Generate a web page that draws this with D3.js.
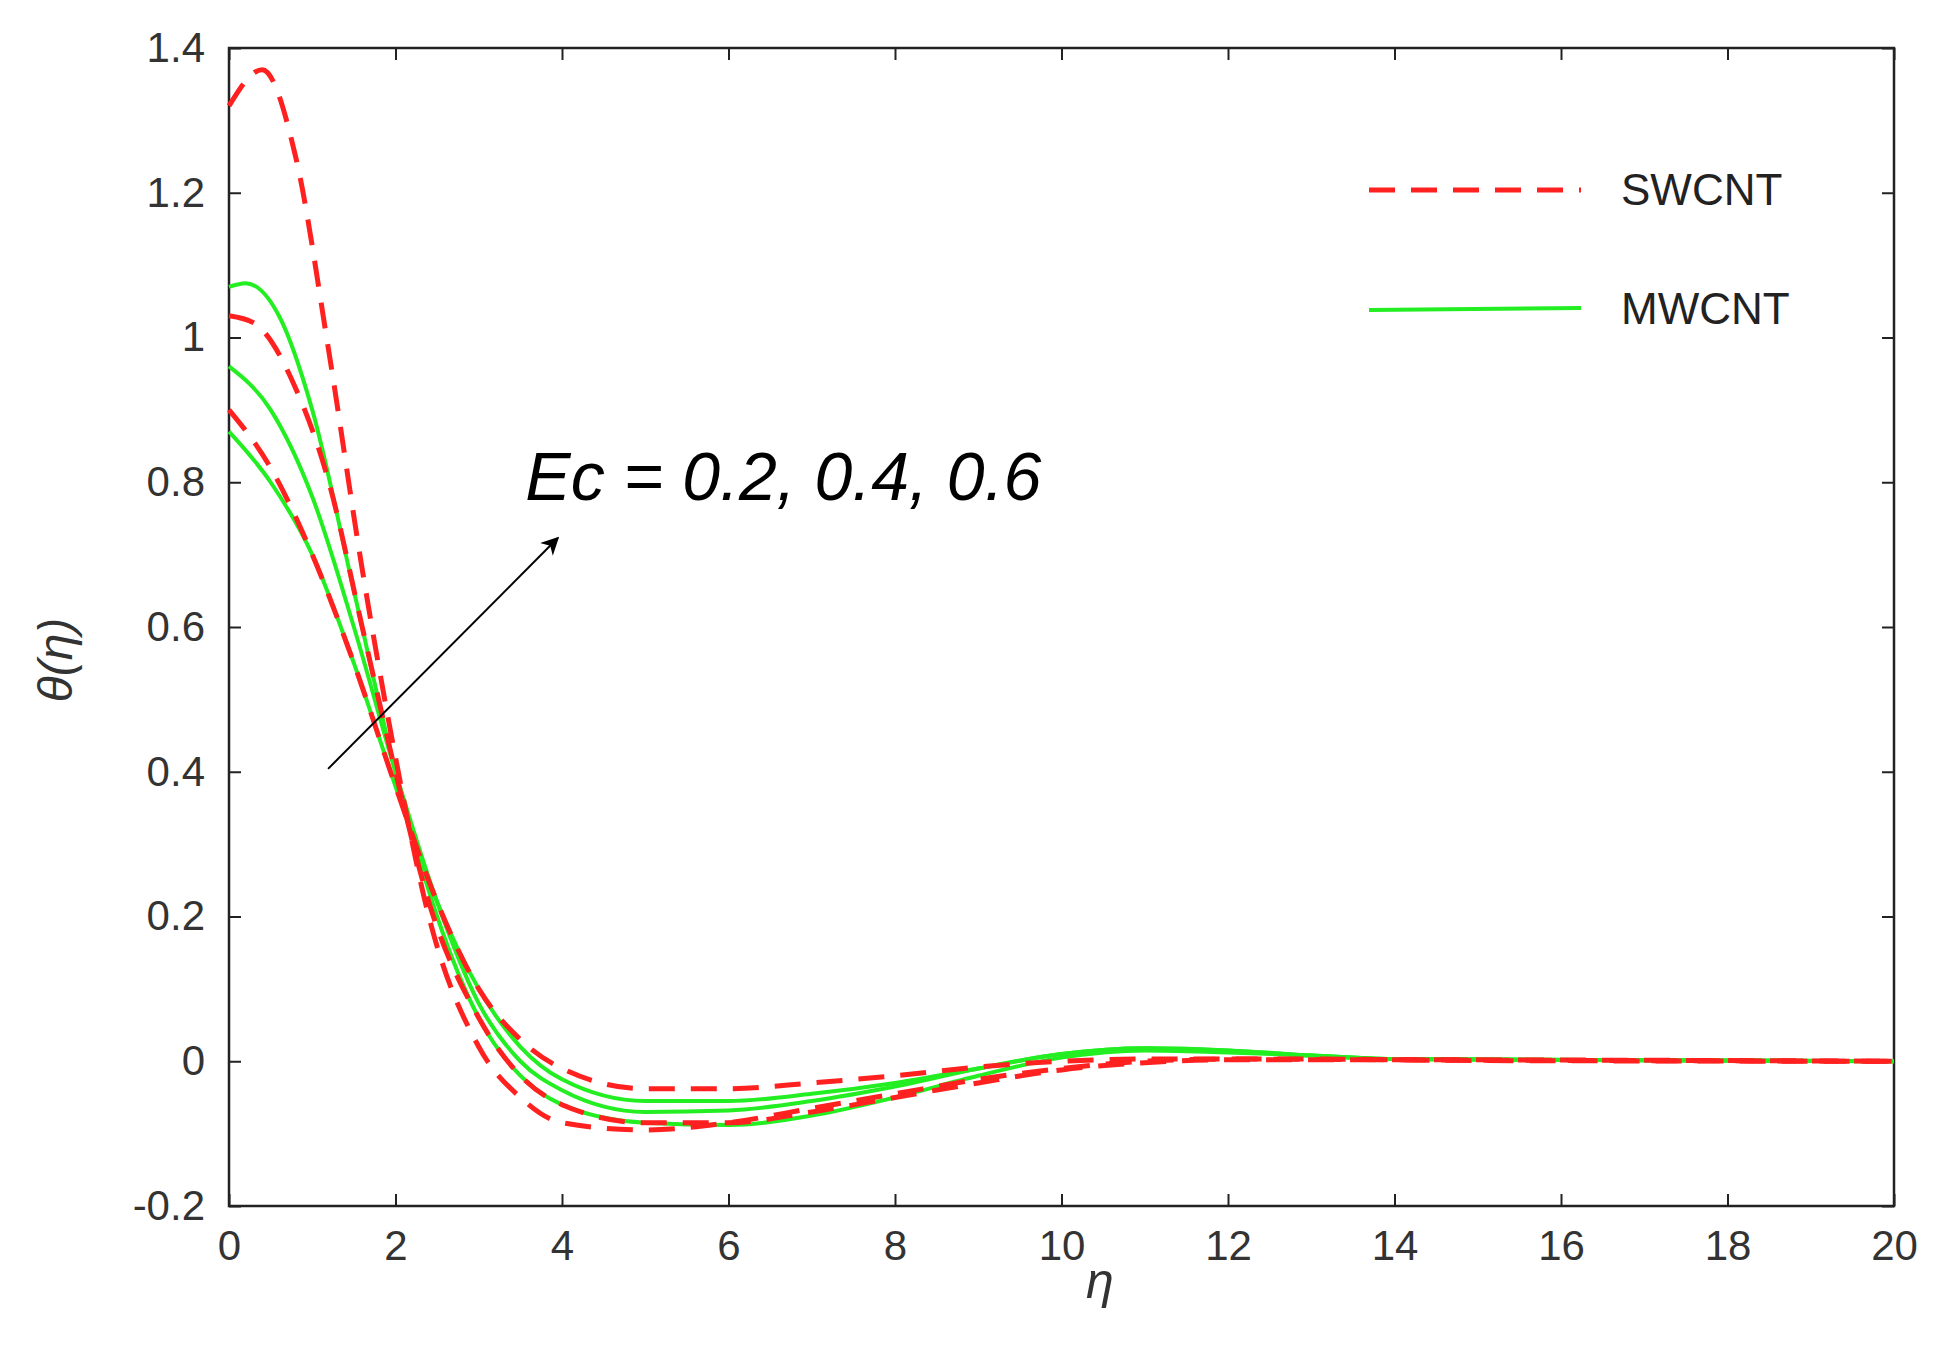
<!DOCTYPE html>
<html>
<head>
<meta charset="utf-8">
<script src="https://cdn.jsdelivr.net/npm/d3@7"></script>
<style>
  body { margin: 0; background: #fff; }
  text { font-family: "Liberation Sans", Arial, sans-serif; }
</style>
</head>
<body>
<div id="chart"></div>
<script>
const xTicks = [0, 2, 4, 6, 8, 10, 12, 14, 16, 18, 20]
const yTicks = [-0.2, 0, 0.2, 0.4, 0.6, 0.8, 1, 1.2, 1.4]

// SWCNT curves (red dashed), Ec = 0.2, 0.4, 0.6
const swcnt1 = [[0,0.9],[0.5,0.82],[1,0.7],[1.5,0.55],[2,0.38],[2.5,0.22],[3,0.1],[3.5,0.03],[4,-0.01],[5,-0.038],[6,-0.038],[7,-0.03],[8,-0.02],[9,-0.008],[10,0],[11,0.003],[13,0.003],[15,0.001],[20,0]]
const swcnt2 = [[0,1.03],[0.3,1.02],[0.8,0.93],[1.2,0.8],[1.6,0.6],[2,0.4],[2.4,0.22],[3,0.06],[3.5,-0.02],[4,-0.06],[5,-0.085],[6,-0.085],[7,-0.07],[8,-0.05],[9,-0.03],[10,-0.012],[11,-0.002],[12,0.002],[14,0.002],[20,0]]
const swcnt3 = [[0,1.32],[0.4,1.37],[0.8,1.25],[1.2,0.98],[1.6,0.68],[2,0.42],[2.4,0.2],[3,0.02],[3.5,-0.05],[4,-0.085],[5,-0.095],[6,-0.085],[7,-0.065],[8,-0.045],[9,-0.025],[10,-0.01],[11,0],[12,0.003],[14,0.002],[20,0]]

// MWCNT curves (green solid), Ec = 0.2, 0.4, 0.6
const mwcnt1 = [[0,0.87],[0.5,0.8],[1,0.7],[1.5,0.55],[2,0.38],[2.5,0.22],[3,0.1],[3.5,0.02],[4,-0.025],[5,-0.055],[6,-0.055],[7,-0.045],[8,-0.03],[9,-0.01],[10,0.01],[11,0.018],[12,0.015],[13,0.008],[14,0.003],[20,0]]
const mwcnt2 = [[0,0.96],[0.5,0.9],[1,0.78],[1.5,0.6],[2,0.4],[2.5,0.22],[3,0.08],[3.5,0],[4,-0.04],[5,-0.07],[6,-0.068],[7,-0.055],[8,-0.035],[9,-0.01],[10,0.01],[11,0.018],[12,0.015],[13,0.008],[14,0.003],[20,0]]
const mwcnt3 = [[0,1.07],[0.2,1.075],[0.6,1.03],[1,0.9],[1.5,0.65],[2,0.4],[2.5,0.2],[3,0.06],[3.5,-0.02],[4,-0.06],[5,-0.085],[6,-0.088],[7,-0.075],[8,-0.05],[9,-0.02],[10,0.005],[11,0.015],[12,0.012],[13,0.008],[14,0.003],[20,0]]

const width = 1950
const height = 1350
const padding = { left: 229, right: 56, top: 48, bottom: 144 }
const innerW = width - padding.left - padding.right
const innerH = height - padding.top - padding.bottom

const xScale = d3.scaleLinear().domain([0, 20]).range([0, innerW])
const yScale = d3.scaleLinear().domain([-0.2, 1.4]).range([innerH, 0])

const svg = d3.select('#chart').append('svg')
  .attr('width', width)
  .attr('height', height)

const g = svg.append('g').attr('transform', `translate(${padding.left}, ${padding.top})`)

const line = d3.line().x(d => xScale(d[0])).y(d => yScale(d[1])).curve(d3.curveMonotoneX)

// axes, ticks pointing inward on all four sides
const fmt = d => (d === 0 ? '0' : String(d))
const styleAxis = sel => {
  sel.select('.domain').remove()
  sel.selectAll('line').attr('stroke', '#222').attr('stroke-width', 2)
  sel.selectAll('text').attr('font-size', 42).attr('fill', '#333')
}
g.append('g').attr('transform', `translate(0, ${innerH})`)
  .call(d3.axisBottom(xScale).tickValues(xTicks).tickFormat(fmt).tickSizeInner(-12).tickPadding(24))
  .call(styleAxis)
g.append('g')
  .call(d3.axisLeft(yScale).tickValues(yTicks).tickFormat(fmt).tickSizeInner(-12).tickPadding(24))
  .call(styleAxis)
g.append('g')
  .call(d3.axisTop(xScale).tickValues(xTicks).tickFormat('').tickSizeInner(-12))
  .call(styleAxis)
g.append('g').attr('transform', `translate(${innerW}, 0)`)
  .call(d3.axisRight(yScale).tickValues(yTicks).tickFormat('').tickSizeInner(-12))
  .call(styleAxis)

g.append('rect')
  .attr('width', innerW).attr('height', innerH)
  .attr('fill', 'none').attr('stroke', '#222').attr('stroke-width', 2.5)

// curves
;[mwcnt1, mwcnt2, mwcnt3].forEach(s => {
  g.append('path').datum(s).attr('d', line)
    .attr('fill', 'none').attr('stroke', '#22ee22').attr('stroke-width', 4)
})
;[swcnt1, swcnt2, swcnt3].forEach(s => {
  g.append('path').datum(s).attr('d', line)
    .attr('fill', 'none').attr('stroke', '#ff2020').attr('stroke-width', 5)
    .attr('stroke-dasharray', '26,16')
})

// legend
const legend = g.append('g').attr('transform', `translate(${1369 - padding.left}, ${190 - padding.top})`)
legend.append('line').attr('x1', 0).attr('x2', 212).attr('y1', 0).attr('y2', 0)
  .attr('stroke', '#ff2020').attr('stroke-width', 5).attr('stroke-dasharray', '26,16')
legend.append('text').attr('x', 252).attr('y', 15).attr('font-size', 44).attr('fill', '#222').text('SWCNT')
legend.append('line').attr('x1', 0).attr('x2', 212).attr('y1', 120).attr('y2', 118)
  .attr('stroke', '#22ee22').attr('stroke-width', 4)
legend.append('text').attr('x', 252).attr('y', 134).attr('font-size', 44).attr('fill', '#222').text('MWCNT')

// annotation arrow
svg.append('defs').append('marker')
  .attr('id', 'arrow').attr('viewBox', '0 0 10 10').attr('refX', 9).attr('refY', 5)
  .attr('markerWidth', 18).attr('markerHeight', 18).attr('markerUnits', 'userSpaceOnUse').attr('orient', 'auto')
  .append('path').attr('d', 'M0,0 L10,5 L0,10 L3,5 Z').attr('fill', '#000')
g.append('line')
  .attr('x1', xScale(1.19)).attr('y1', yScale(0.404))
  .attr('x2', xScale(3.95)).attr('y2', yScale(0.723))
  .attr('stroke', '#000').attr('stroke-width', 2).attr('marker-end', 'url(#arrow)')
g.append('text')
  .attr('x', xScale(3.56)).attr('y', yScale(0.775))
  .attr('font-size', 68).attr('font-style', 'italic').attr('fill', '#000')
  .text('Ec = 0.2, 0.4, 0.6')

// axis titles
svg.append('text').attr('x', 1100).attr('y', 1298).attr('text-anchor', 'middle')
  .attr('font-size', 50).attr('font-style', 'italic').attr('font-family', 'DejaVu Serif').attr('fill', '#333').text('η')
svg.append('text').attr('transform', 'translate(72, 660) rotate(-90)').attr('text-anchor', 'middle')
  .attr('font-size', 48).attr('font-style', 'italic').attr('font-family', 'DejaVu Serif').attr('fill', '#333').text('θ(η)')
</script>
</body>
</html>
